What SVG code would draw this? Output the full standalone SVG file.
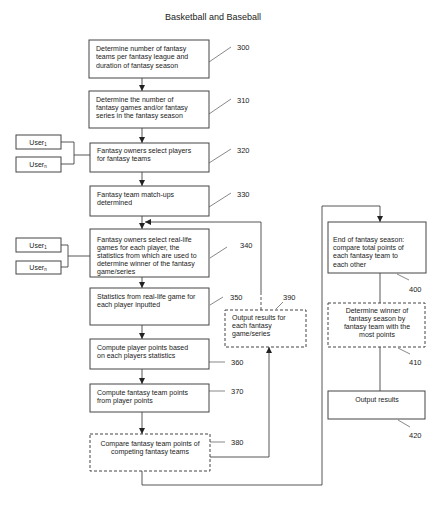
<svg xmlns="http://www.w3.org/2000/svg" width="442" height="512" viewBox="0 0 442 512">
<style>
text{font-family:"Liberation Sans",Arial,sans-serif;fill:#222;}
.t{font-size:7px;}
.c{text-anchor:middle;}
.lbl{font-size:7.5px;}
.title{font-size:9px;text-anchor:middle;}
.box{fill:#fff;stroke:#444;stroke-width:1;}
.dbox{fill:#fff;stroke:#444;stroke-width:1;stroke-dasharray:3,2;}
.ln{fill:none;stroke:#444;stroke-width:0.9;}
.dl{fill:none;stroke:#444;stroke-width:0.9;stroke-dasharray:3,2;}
.ld{fill:none;stroke:#555;stroke-width:0.7;}
</style>
<defs>
<marker id="ah" viewBox="0 0 10 10" refX="10" refY="5" markerWidth="6" markerHeight="6" orient="auto" markerUnits="userSpaceOnUse">
<path d="M0,0 L10,5 L0,10 z" fill="#222"/>
</marker>
</defs>
<rect width="442" height="512" fill="#fff"/>
<text class="title" x="213" y="20">Basketball and Baseball</text>

<g id="connectors">
<line class="ln" x1="142" y1="78" x2="142" y2="91" marker-end="url(#ah)"/>
<line class="ln" x1="142" y1="128" x2="142" y2="143" marker-end="url(#ah)"/>
<line class="ln" x1="142" y1="172" x2="142" y2="186" marker-end="url(#ah)"/>
<line class="ln" x1="142" y1="216" x2="142" y2="229" marker-end="url(#ah)"/>
<line class="ln" x1="142" y1="277" x2="142" y2="288" marker-end="url(#ah)"/>
<line class="ln" x1="142" y1="325" x2="142" y2="339" marker-end="url(#ah)"/>
<line class="ln" x1="142" y1="369" x2="142" y2="384" marker-end="url(#ah)"/>
<line class="ln" x1="142" y1="412" x2="142" y2="434" marker-end="url(#ah)"/>
<line class="dl" x1="261" y1="310" x2="261" y2="292"/>
<polyline class="ln" points="261,292 261,222 145,222" marker-end="url(#ah)"/>
<polyline class="ln" points="210,457 269,457 269,347" marker-end="url(#ah)"/>
<polyline class="ln" points="142,471 142,485 322,485 322,206 380,206 380,222" marker-end="url(#ah)"/>
<line class="ln" x1="380" y1="273" x2="380" y2="303"/>
<line class="ln" x1="380" y1="347" x2="380" y2="391"/>
<polyline class="ln" points="61,142 74,142 74,164 61,164"/>
<line class="ln" x1="74" y1="155" x2="90" y2="155"/>
<polyline class="ln" points="61,245 68,245 68,267 61,267"/>
<line class="ln" x1="68" y1="256" x2="90" y2="256"/>
<line class="ld" x1="209" y1="62" x2="231" y2="47"/>
<line class="ld" x1="209" y1="114" x2="231" y2="99"/>
<line class="ld" x1="209" y1="163" x2="231" y2="149"/>
<line class="ld" x1="209" y1="207" x2="231" y2="193"/>
<line class="ld" x1="210" y1="258" x2="227" y2="247"/>
<line class="ld" x1="210" y1="305" x2="223" y2="297"/>
<line class="ld" x1="276" y1="309" x2="283" y2="302"/>
<line class="ld" x1="209" y1="362" x2="225" y2="362"/>
<line class="ld" x1="209" y1="391" x2="225" y2="391"/>
<line class="ld" x1="210" y1="442" x2="225" y2="442"/>
<line class="ld" x1="397" y1="274" x2="409" y2="280"/>
<line class="ld" x1="398" y1="348" x2="410" y2="354"/>
<line class="ld" x1="398" y1="420" x2="410" y2="427"/>
</g>

<g id="n300"><rect class="box" x="89" y="40" width="120" height="38"/>
<text class="t" x="96" y="50.5">Determine number of fantasy</text>
<text class="t" x="96" y="59">teams per fantasy league and</text>
<text class="t" x="96" y="67.5">duration of fantasy season</text>
<text class="lbl" x="237" y="50">300</text></g>

<g id="n310"><rect class="box" x="89" y="91" width="120" height="37"/>
<text class="t" x="96" y="101.5">Determine the number of</text>
<text class="t" x="96" y="109.5">fantasy games and/or fantasy</text>
<text class="t" x="96" y="117.5">series in the fantasy season</text>
<text class="lbl" x="237" y="103">310</text></g>

<g id="u1a"><rect class="box" x="16" y="135" width="45" height="14"/>
<text class="t c" x="38" y="144.5">User<tspan font-size="4.5" dy="1.5">1</tspan></text></g>
<g id="una"><rect class="box" x="16" y="157" width="45" height="15"/>
<text class="t c" x="38" y="166.5">User<tspan font-size="4.5" dy="1.5">n</tspan></text></g>

<g id="n320"><rect class="box" x="90" y="143" width="119" height="29"/>
<text class="t" x="97" y="152.5">Fantasy owners select players</text>
<text class="t" x="97" y="160.5">for fantasy teams</text>
<text class="lbl" x="237" y="153">320</text></g>

<g id="n330"><rect class="box" x="90" y="186" width="119" height="30"/>
<text class="t" x="97" y="196.5">Fantasy team match-ups</text>
<text class="t" x="97" y="204.5">determined</text>
<text class="lbl" x="237" y="197">330</text></g>

<g id="u1b"><rect class="box" x="16" y="238" width="45" height="14"/>
<text class="t c" x="38" y="247.5">User<tspan font-size="4.5" dy="1.5">1</tspan></text></g>
<g id="unb"><rect class="box" x="16" y="261" width="45" height="13"/>
<text class="t c" x="38" y="269.5">User<tspan font-size="4.5" dy="1.5">n</tspan></text></g>

<g id="n340"><rect class="box" x="90" y="229" width="119" height="48"/>
<text class="t" x="97" y="241.5">Fantasy owners select real-life</text>
<text class="t" x="97" y="250">games for each player, the</text>
<text class="t" x="97" y="258">statistics from which are used to</text>
<text class="t" x="97" y="266">determine winner of the fantasy</text>
<text class="t" x="97" y="274">game/series</text>
<text class="lbl" x="240" y="248">340</text></g>

<g id="n350"><rect class="box" x="90" y="288" width="119" height="37"/>
<text class="t" x="97" y="298.5">Statistics from real-life game for</text>
<text class="t" x="97" y="306.5">each player inputted</text>
<text class="lbl" x="230" y="300">350</text></g>

<g id="n390"><rect class="dbox" x="225" y="310" width="81" height="37"/>
<text class="t" x="232" y="319.5">Output results for</text>
<text class="t" x="232" y="327.5">each fantasy</text>
<text class="t" x="232" y="335.5">game/series</text>
<text class="lbl" x="283" y="300">390</text></g>

<g id="n360"><rect class="box" x="90" y="339" width="119" height="30"/>
<text class="t" x="97" y="349.5">Compute player points based</text>
<text class="t" x="97" y="357.5">on each players statistics</text>
<text class="lbl" x="231" y="365">360</text></g>

<g id="n370"><rect class="box" x="90" y="384" width="119" height="28"/>
<text class="t" x="97" y="394.5">Compute fantasy team points</text>
<text class="t" x="97" y="402.5">from player points</text>
<text class="lbl" x="231" y="394">370</text></g>

<g id="n380"><rect class="dbox" x="90" y="434" width="120" height="37"/>
<text class="t c" x="150" y="445.5">Compare fantasy team points of</text>
<text class="t c" x="150" y="453.5">competing fantasy teams</text>
<text class="lbl" x="231" y="445">380</text></g>

<g id="n400"><rect class="box" x="328" y="222" width="98" height="51"/>
<text class="t" x="333" y="241.5">End of fantasy season:</text>
<text class="t" x="333" y="250">compare total points of</text>
<text class="t" x="333" y="258">each fantasy team to</text>
<text class="t" x="333" y="266.5">each other</text>
<text class="lbl" x="409" y="292">400</text></g>

<g id="n410"><rect class="dbox" x="328" y="303" width="97" height="44"/>
<text class="t c" x="377" y="312.5">Determine winner of</text>
<text class="t c" x="377" y="320.5">fantasy season by</text>
<text class="t c" x="377" y="328.5">fantasy team with the</text>
<text class="t c" x="377" y="336.5">most points</text>
<text class="lbl" x="409" y="365">410</text></g>

<g id="n420"><rect class="box" x="328" y="391" width="97" height="28"/>
<text class="t c" x="377" y="401.5">Output results</text>
<text class="lbl" x="409" y="438">420</text></g>
</svg>
